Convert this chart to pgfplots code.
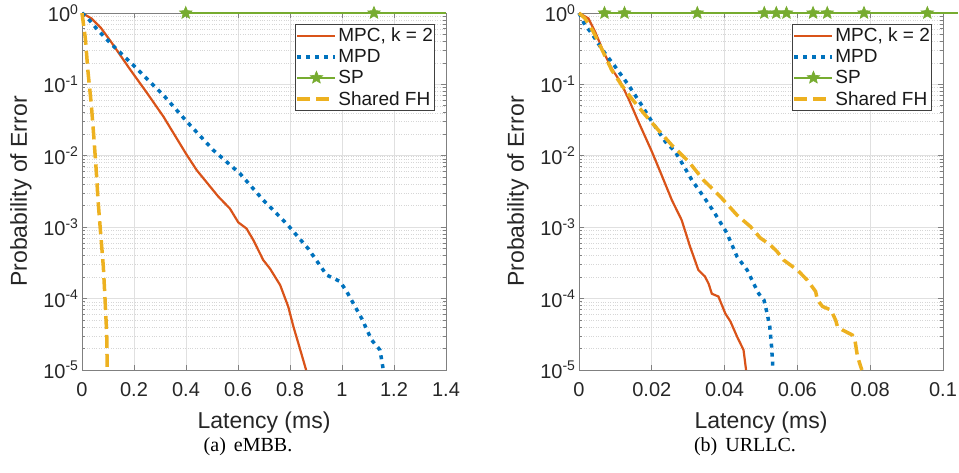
\documentclass[border=0pt]{standalone}
\usepackage{fontspec}
\setmainfont{Liberation Serif}
\setsansfont{Liberation Sans}
\usepackage{pgfplots}
\pgfplotsset{compat=1.18}

\definecolor{mpcred}{rgb}{0.850,0.325,0.098}
\definecolor{mpdblue}{rgb}{0,0.447,0.741}
\definecolor{spgreen}{rgb}{0.466,0.674,0.188}
\definecolor{fhyellow}{rgb}{0.929,0.694,0.125}

% filled five-pointed star (MATLAB pentagram)
\pgfdeclareplotmark{fstar}{%
  \pgfpathmoveto{\pgfpointpolar{90}{\pgfplotmarksize}}%
  \pgfpathlineto{\pgfpointpolar{126}{0.45\pgfplotmarksize}}%
  \pgfpathlineto{\pgfpointpolar{162}{\pgfplotmarksize}}%
  \pgfpathlineto{\pgfpointpolar{198}{0.45\pgfplotmarksize}}%
  \pgfpathlineto{\pgfpointpolar{234}{\pgfplotmarksize}}%
  \pgfpathlineto{\pgfpointpolar{270}{0.45\pgfplotmarksize}}%
  \pgfpathlineto{\pgfpointpolar{306}{\pgfplotmarksize}}%
  \pgfpathlineto{\pgfpointpolar{342}{0.45\pgfplotmarksize}}%
  \pgfpathlineto{\pgfpointpolar{18}{\pgfplotmarksize}}%
  \pgfpathlineto{\pgfpointpolar{54}{0.45\pgfplotmarksize}}%
  \pgfpathclose
  \pgfusepathqfillstroke
}

\tikzset{
  mpcline/.style={mpcred, line width=2.2pt},
  mpdline/.style={mpdblue, line width=3.5pt, dash pattern=on 4pt off 5pt},
  spline/.style={spgreen, line width=2.2pt, mark=fstar, mark size=6.5pt,
    mark options={solid, fill=spgreen, draw=spgreen, line width=0.6pt}},
  fhline/.style={fhyellow, line width=3.5pt, dash pattern=on 13pt off 6pt},
}

\pgfplotsset{
  every axis/.append style={
    scale only axis, width=364pt, height=357pt,
    scaled x ticks=false,
    clip=false,
    axis line style={black!50, line width=0.9pt},
    tick align=inside, major tick length=5pt, minor tick length=3pt,
    tick style={black!50, line width=0.8pt},
    xmajorgrids, ymajorgrids, yminorgrids,
    major grid style={black!12, line width=0.8pt},
    minor grid style={black!16, dotted, line width=0.6pt},
    tick label style={font=\sffamily\fontsize{20}{24}\selectfont, text=black!85},
    xticklabel style={yshift=-9pt},
    label style={font=\sffamily\fontsize{23}{27}\selectfont, text=black!85},
    xlabel style={at={(axis description cs:0.5,-0.148)}, anchor=center},
    ylabel style={at={(axis description cs:-0.168,0.5)}, anchor=center},
    legend style={at={(1,1)}, anchor=north east, xshift=-11pt, yshift=-11pt,
      draw=black!75, line width=0.8pt, fill=white,
      font=\sffamily\fontsize{19}{21}\selectfont, text=black!90,
      inner xsep=0.5pt, inner ysep=2.5pt, row sep=3.8pt,
      nodes={inner sep=1.2pt}},
    legend cell align=left,
  },
  legend image code/.code={\draw[mark repeat=2,mark phase=2,#1,mark indices={2}] plot coordinates {(0pt,0pt) (19pt,0pt) (38pt,0pt)};},
}

\begin{document}
\begin{tikzpicture}
\useasboundingbox (0,0) rectangle (959pt,472pt);

% (a) eMBB
\begin{axis}[at={(82pt,102pt)}, anchor=south west,
  ymode=log, ymin=1e-5, ymax=1,
  ytick={1e-5,1e-4,1e-3,1e-2,1e-1,1},
  yticklabels={10\textsuperscript{-5},10\textsuperscript{-4},10\textsuperscript{-3},10\textsuperscript{-2},10\textsuperscript{-1},10\textsuperscript{0}},
  xmin=0, xmax=1.4,
  xtick={0,0.2,0.4,0.6,0.8,1,1.2,1.4},
  xticklabels={0,0.2,0.4,0.6,0.8,1,1.2,1.4},
  xlabel={Latency (ms)}, ylabel={Probability of Error}]
\addplot[mpcline] coordinates {
  (0,1) (0.036,0.841) (0.073,0.617) (0.111,0.398) (0.185,0.162) (0.25,0.0759)
  (0.313,0.0355) (0.4,0.0107) (0.441,0.00631) (0.524,0.00269) (0.569,0.00182)
  (0.601,0.00117) (0.633,9.55e-4) (0.659,6.61e-4) (0.697,3.47e-4)
  (0.723,2.63e-4) (0.762,1.55e-4) (0.793,7.76e-5) (0.813,4.07e-5) (0.838,2.00e-5)
  (0.862,1e-5)};
\addlegendentry{MPC, k = 2}
\addplot[mpdline] coordinates {
  (0,1) (0.023,0.841) (0.061,0.575) (0.111,0.372) (0.197,0.186) (0.313,0.0708)
  (0.403,0.0302) (0.505,0.0120) (0.608,0.00562) (0.697,0.00240) (0.787,0.00112)
  (0.870,5.01e-4) (0.941,2.14e-4) (0.992,1.74e-4)
  (1.018,1.26e-4) (1.076,5.25e-5) (1.114,2.63e-5) (1.146,1.91e-5) (1.159,1e-5)};
\addlegendentry{MPD}
\addplot[spline, mark indices={2,3}] coordinates {
  (0.38,1) (0.399,1) (1.123,1) (1.4,1)};
\addlegendentry{SP}
\addplot[fhline] coordinates {
  (0,1) (0.013,0.437) (0.023,0.151) (0.036,0.0513) (0.046,0.0174) (0.055,0.00603)
  (0.062,0.00229) (0.072,7.94e-4) (0.082,2.82e-4) (0.0885,1e-4) (0.095,3.24e-5)
  (0.097,1e-5)};
\addlegendentry{Shared FH}
\end{axis}

% (b) URLLC
\begin{axis}[at={(579pt,102pt)}, anchor=south west,
  ymode=log, ymin=1e-5, ymax=1,
  ytick={1e-5,1e-4,1e-3,1e-2,1e-1,1},
  yticklabels={10\textsuperscript{-5},10\textsuperscript{-4},10\textsuperscript{-3},10\textsuperscript{-2},10\textsuperscript{-1},10\textsuperscript{0}},
  xmin=0, xmax=0.1,
  xtick={0,0.02,0.04,0.06,0.08,0.1},
  xticklabels={0,0.02,0.04,0.06,0.08,0.1},
  xlabel={Latency (ms)}, ylabel={Probability of Error}]
\addplot[mpcline] coordinates {
  (0,1) (0.00257,0.841) (0.0044,0.550) (0.0067,0.288) (0.0090,0.166) (0.0113,0.110)
  (0.0136,0.0631) (0.0163,0.0302) (0.0200,0.0115) (0.0227,0.00537) (0.0255,0.00240)
  (0.0282,0.00126) (0.0305,5.37e-4) (0.0328,2.51e-4) (0.0346,2.04e-4) (0.0356,1.62e-4)
  (0.0365,1.17e-4) (0.0383,1.07e-4) (0.0402,6.17e-5) (0.0416,4.79e-5) (0.0434,2.95e-5)
  (0.0452,1.91e-5) (0.0459,1e-5)};
\addlegendentry{MPC, k = 2}
\addplot[mpdline] coordinates {
  (0,1) (0.00165,0.676) (0.0035,0.519) (0.0062,0.316) (0.0099,0.178) (0.0136,0.0977)
  (0.0172,0.0513) (0.0200,0.0302) (0.0237,0.0158) (0.0264,0.0115) (0.0292,0.00661)
  (0.031,0.00457) (0.0342,0.00269) (0.037,0.00166) (0.0406,8.32e-4) (0.0434,3.89e-4)
  (0.0462,2.51e-4) (0.048,1.62e-4) (0.0494,1.17e-4) (0.0508,9.55e-5) (0.0517,6.17e-5)
  (0.0524,4.07e-5) (0.0529,2.14e-5) (0.0533,1e-5)};
\addlegendentry{MPD}
\addplot[spline, mark indices={2,...,11}] coordinates {
  (0.0055,1) (0.0070,1) (0.0125,1) (0.0325,1) (0.0509,1) (0.0542,1) (0.0570,1)
  (0.0643,1) (0.0682,1) (0.0783,1) (0.0957,1) (0.104,1)};
\addlegendentry{SP}
\addplot[fhline] coordinates {
  (0,1) (0.00165,0.841) (0.0039,0.550) (0.0062,0.316) (0.0090,0.158) (0.0117,0.0977)
  (0.0145,0.0631) (0.0182,0.0372) (0.0218,0.0229) (0.0255,0.0141) (0.0301,0.00832)
  (0.0342,0.00457) (0.0388,0.00269) (0.0434,0.00148) (0.0471,0.00102) (0.0498,7.08e-4)
  (0.0526,5.62e-4) (0.0544,4.57e-4) (0.0562,3.47e-4) (0.0600,2.51e-4) (0.0627,1.82e-4)
  (0.065,1.26e-4) (0.0655,9.55e-5) (0.0669,7.76e-5) (0.0692,6.92e-5) (0.0705,5.01e-5)
  (0.071,4.07e-5) (0.0724,3.63e-5) (0.0751,3.09e-5) (0.0758,2.63e-5) (0.0765,1.55e-5)
  (0.0777,1e-5)};
\addlegendentry{Shared FH}
\end{axis}

\node[font=\fontsize{20}{23}\selectfont] at (248pt,25pt) {(a)\hspace{8pt}eMBB.};
\node[font=\fontsize{20}{23}\selectfont] at (745pt,25pt) {(b)\hspace{8pt}URLLC.};
\end{tikzpicture}
\end{document}
